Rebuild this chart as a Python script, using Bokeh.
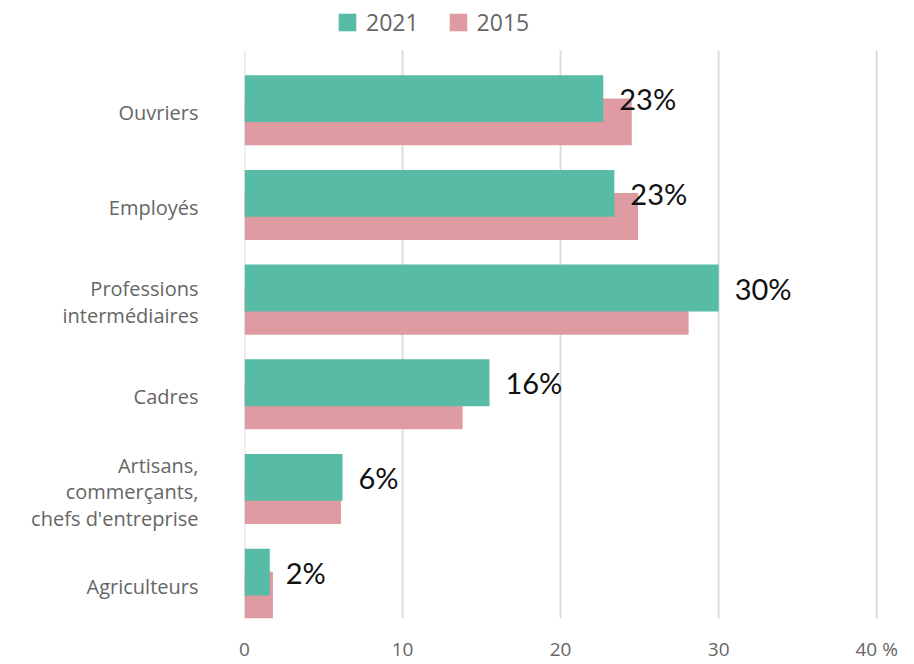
from bokeh.plotting import figure
from bokeh.models import ColumnDataSource, FixedTicker, Legend, LegendItem, Range1d
from bokeh.core.properties import value
from bokeh.embed import file_html
from bokeh.resources import INLINE

categories = ["Ouvriers", "Employés", "Professions\nintermédiaires", "Cadres",
              "Artisans,\ncommerçants,\nchefs d'entreprise", "Agriculteurs"]
values_2021 = [22.7, 23.4, 30.0, 15.5, 6.2, 1.6]
values_2015 = [24.5, 24.9, 28.1, 13.8, 6.1, 1.8]
labels_2021 = ["23%", "23%", "30%", "16%", "6%", "2%"]
x_ticks = [0, 10, 20, 30, 40]
x_tick_labels = ["0", "10", "20", "30", "40 %"]

GREEN = "#57bba5"
PINK = "#df9ba2"

n = len(categories)
idx = list(range(n))
src = ColumnDataSource(dict(
    g_y=[i + 0.51 for i in idx],
    p_y=[i + 0.755 for i in idx],
    v21=values_2021,
    v15=values_2015,
    lab=labels_2021,
))

# the frame reaches the top of the canvas so that the legend above the bars is not clipped
p = figure(width=906, height=664, output_backend="svg", toolbar_location=None,
           x_range=Range1d(0, 41), y_range=Range1d(n, -50 / 95),
           min_border_left=244, min_border_right=14, min_border_top=0, min_border_bottom=42)
p.outline_line_color = None
p.background_fill_color = "white"
p.border_fill_color = "white"
p.xgrid.grid_line_color = None
p.ygrid.grid_line_color = None

# vertical grid lines limited to the category area
p.segment(x0=x_ticks, x1=x_ticks, y0=[0] * len(x_ticks), y1=[n] * len(x_ticks),
          line_color="#dddddd", line_width=2)

r15 = p.hbar(y="p_y", right="v15", left=0, height=0.495, source=src, color=PINK, line_color=None)
r21 = p.hbar(y="g_y", right="v21", left=0, height=0.495, source=src, color=GREEN, line_color=None)

p.text(x="v21", y="g_y", text="lab", source=src, x_offset=16,
       text_baseline="middle", text_align="left",
       text_font=value("Lato"), text_font_size="29px", text_color="#111111")

# x axis
p.xaxis.ticker = FixedTicker(ticks=x_ticks)
p.xaxis.major_label_overrides = {t: l for t, l in zip(x_ticks, x_tick_labels)}
p.xaxis.axis_line_color = None
p.xaxis.major_tick_line_color = None
p.xaxis.minor_tick_line_color = None
p.xaxis.major_tick_out = 0
p.xaxis.major_tick_in = 0
p.xaxis.major_label_standoff = 17
p.xaxis.major_label_text_font = "Open Sans"
p.xaxis.major_label_text_font_size = "19px"
p.xaxis.major_label_text_color = "#666666"

# y axis
y_pos = [i + 0.66 for i in idx]
p.yaxis.ticker = FixedTicker(ticks=y_pos)
p.yaxis.major_label_overrides = {t: c for t, c in zip(y_pos, categories)}
p.yaxis.axis_line_color = None
p.yaxis.major_tick_line_color = None
p.yaxis.minor_tick_line_color = None
p.yaxis.major_tick_out = 0
p.yaxis.major_tick_in = 0
p.yaxis.major_label_standoff = 46
p.yaxis.major_label_text_font = "Open Sans"
p.yaxis.major_label_text_font_size = "20px"
p.yaxis.major_label_text_color = "#666666"
p.yaxis.major_label_text_align = "right"
p.yaxis.major_label_text_line_height = 0.98

legend = Legend(items=[LegendItem(label="2021", renderers=[r21]),
                       LegendItem(label="2015", renderers=[r15])],
                orientation="horizontal", location=(92, 580),
                glyph_width=22, glyph_height=22, label_standoff=8, spacing=28,
                padding=0, margin=0, border_line_color=None, background_fill_alpha=0,
                label_text_font="Open Sans", label_text_font_size="23px",
                label_text_color="#666666", label_height=22)
p.add_layout(legend, "center")

open("out.html", "w").write(file_html(p, INLINE))
